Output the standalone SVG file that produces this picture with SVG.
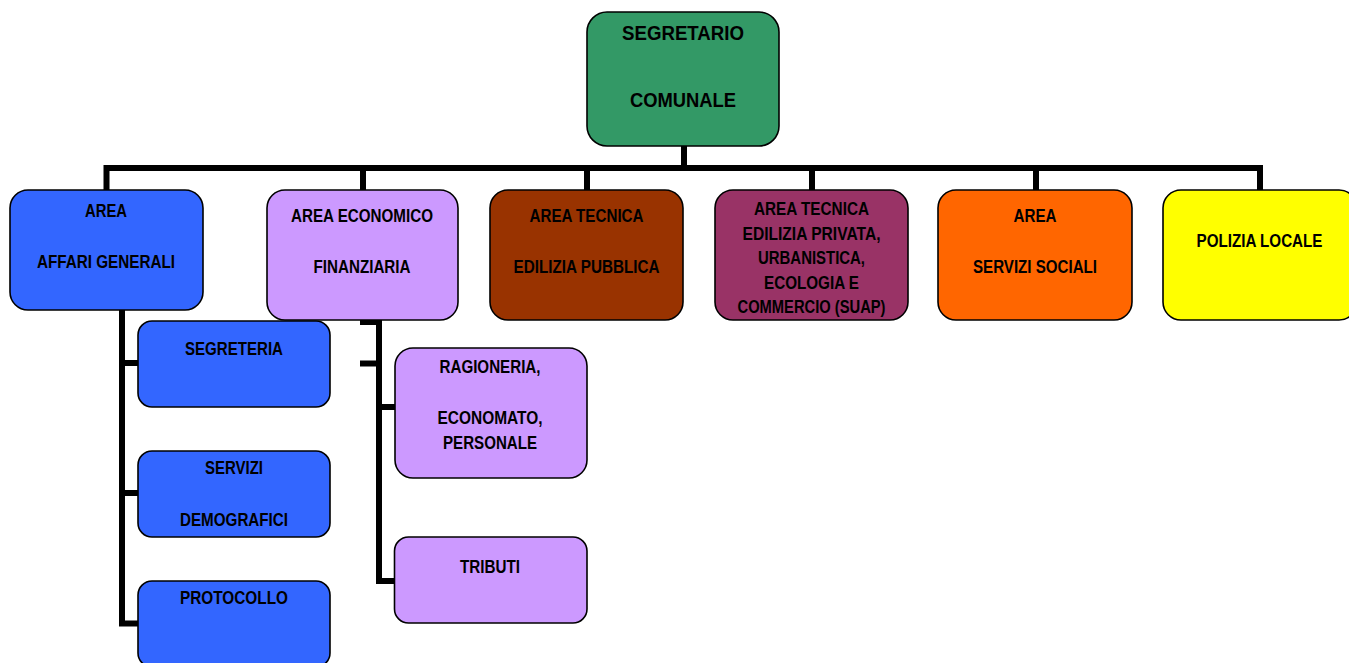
<svg xmlns="http://www.w3.org/2000/svg" width="1349" height="663" viewBox="0 0 1349 663">
<style>
.box{stroke:#000;stroke-width:1.6}
.t{font-family:"Liberation Sans",Arial,sans-serif;font-weight:bold;font-size:18px;fill:#000;text-anchor:middle}
.big{font-size:21px}
.ln{fill:none;stroke:#000;stroke-width:6;stroke-linecap:butt;stroke-linejoin:miter}
</style>
<rect width="1349" height="663" fill="#fff"/>
<g id="connectors">
<path class="ln" d="M684 146 V168"/>
<path class="ln" d="M106.5 190 V168 H1260 V190"/>
<path class="ln" d="M363 168 V190"/>
<path class="ln" d="M587 168 V190"/>
<path class="ln" d="M812 168 V190"/>
<path class="ln" d="M1036 168 V190"/>
<path class="ln" d="M122 310 V623.5 H138"/>
<path class="ln" d="M122 363 H138"/>
<path class="ln" d="M122 493 H138"/>
<path class="ln" d="M360 322 H379 V581 H395"/>
<path class="ln" d="M360 363.5 H379"/>
<path class="ln" d="M379 407 H395"/>
</g>
<g id="n-segretario">
<rect class="box" x="587" y="12" width="192" height="134" rx="20" fill="#339966"/>
<text class="t big" x="683" y="40" textLength="122" lengthAdjust="spacingAndGlyphs">SEGRETARIO</text>
<text class="t big" x="683" y="106.5" textLength="106" lengthAdjust="spacingAndGlyphs">COMUNALE</text>
</g>
<g id="n-affari">
<rect class="box" x="10" y="190" width="193" height="120" rx="18" fill="#3366FF"/>
<text class="t" x="106" y="216.5" textLength="42" lengthAdjust="spacingAndGlyphs">AREA</text>
<text class="t" x="106" y="268" textLength="138" lengthAdjust="spacingAndGlyphs">AFFARI GENERALI</text>
</g>
<g id="n-economico">
<rect class="box" x="267" y="190" width="191" height="130" rx="18" fill="#CC99FF"/>
<text class="t" x="362" y="221.5" textLength="142" lengthAdjust="spacingAndGlyphs">AREA ECONOMICO</text>
<text class="t" x="362" y="272.5" textLength="97" lengthAdjust="spacingAndGlyphs">FINANZIARIA</text>
</g>
<g id="n-tecnica-pubblica">
<rect class="box" x="490" y="190" width="193" height="130" rx="18" fill="#993300"/>
<text class="t" x="586.5" y="221.5" textLength="114" lengthAdjust="spacingAndGlyphs">AREA TECNICA</text>
<text class="t" x="586.5" y="272.5" textLength="146" lengthAdjust="spacingAndGlyphs">EDILIZIA PUBBLICA</text>
</g>
<g id="n-tecnica-privata">
<rect class="box" x="715" y="190" width="193" height="130" rx="18" fill="#993366"/>
<text class="t" x="811.5" y="214.5" textLength="115" lengthAdjust="spacingAndGlyphs">AREA TECNICA</text>
<text class="t" x="811.5" y="240" textLength="138" lengthAdjust="spacingAndGlyphs">EDILIZIA PRIVATA,</text>
<text class="t" x="811.5" y="264" textLength="107" lengthAdjust="spacingAndGlyphs">URBANISTICA,</text>
<text class="t" x="811.5" y="289" textLength="95" lengthAdjust="spacingAndGlyphs">ECOLOGIA E</text>
<text class="t" x="811.5" y="312.5" textLength="148" lengthAdjust="spacingAndGlyphs">COMMERCIO (SUAP)</text>
</g>
<g id="n-sociali">
<rect class="box" x="938" y="190" width="194" height="130" rx="18" fill="#FF6600"/>
<text class="t" x="1035" y="221.5" textLength="43" lengthAdjust="spacingAndGlyphs">AREA</text>
<text class="t" x="1035" y="272.5" textLength="124" lengthAdjust="spacingAndGlyphs">SERVIZI SOCIALI</text>
</g>
<g id="n-polizia">
<rect class="box" x="1163" y="190" width="194" height="130" rx="18" fill="#FFFF00"/>
<text class="t" x="1259.5" y="246.5" textLength="126" lengthAdjust="spacingAndGlyphs">POLIZIA LOCALE</text>
</g>
<g id="n-segreteria">
<rect class="box" x="138" y="321" width="192" height="86" rx="14" fill="#3366FF"/>
<text class="t" x="234" y="355" textLength="98" lengthAdjust="spacingAndGlyphs">SEGRETERIA</text>
</g>
<g id="n-demografici">
<rect class="box" x="138" y="451" width="192" height="86" rx="14" fill="#3366FF"/>
<text class="t" x="234" y="473.5" textLength="58" lengthAdjust="spacingAndGlyphs">SERVIZI</text>
<text class="t" x="234" y="525.5" textLength="108" lengthAdjust="spacingAndGlyphs">DEMOGRAFICI</text>
</g>
<g id="n-protocollo">
<rect class="box" x="138" y="581" width="192" height="86" rx="14" fill="#3366FF"/>
<text class="t" x="234" y="604" textLength="108" lengthAdjust="spacingAndGlyphs">PROTOCOLLO</text>
</g>
<g id="n-ragioneria">
<rect class="box" x="395" y="348" width="192" height="130" rx="18" fill="#CC99FF"/>
<text class="t" x="490" y="372.5" textLength="101" lengthAdjust="spacingAndGlyphs">RAGIONERIA,</text>
<text class="t" x="490" y="424" textLength="105" lengthAdjust="spacingAndGlyphs">ECONOMATO,</text>
<text class="t" x="490" y="448.5" textLength="94" lengthAdjust="spacingAndGlyphs">PERSONALE</text>
</g>
<g id="n-tributi">
<rect class="box" x="394.5" y="537" width="192.5" height="86" rx="14" fill="#CC99FF"/>
<text class="t" x="490" y="572.5" textLength="60" lengthAdjust="spacingAndGlyphs">TRIBUTI</text>
</g>
</svg>
